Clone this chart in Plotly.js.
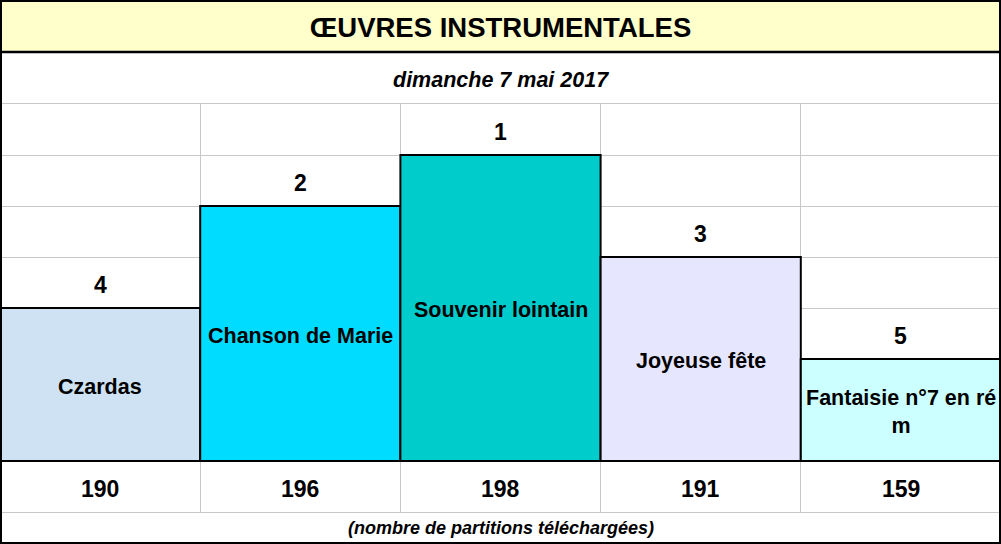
<!DOCTYPE html>
<html>
<head>
<meta charset="utf-8">
<script src="https://cdn.plot.ly/plotly-3.0.1.min.js"></script>
<style>
  html, body { margin: 0; padding: 0; background: #ffffff; }
  #chart { width: 1001px; height: 544px; }
</style>
</head>
<body>
<div id="chart"></div>
<script>
// ---- data ----
const chartTitle = 'ŒUVRES INSTRUMENTALES';
const chartDate = 'dimanche 7 mai 2017';
const footnote = '(nombre de partitions téléchargées)';
const pieces = ['Czardas', 'Chanson de Marie', 'Souvenir lointain', 'Joyeuse fête', 'Fantaisie n°7 en ré m'];
const ranks = [4, 2, 1, 3, 5];
const downloads = [190, 196, 198, 191, 159];

// ---- styling ----
const barColors = ['#CFE2F3', '#00DCFF', '#00CCCC', '#E6E6FF', '#CCFFFF'];
const font = '"Liberation Sans", Arial, sans-serif';
const W = 1001, H = 544, TOP = 104, BOTTOM = 32;
const plotH = H - TOP - BOTTOM;
const py = px => (H - BOTTOM - px) / plotH; // pixel row -> paper y

// bar height in grid rows: best rank is tallest
const barHeight = ranks.map(r => ranks.length + 2 - r);
const xs = pieces.map((_, i) => i);

function wrap(s, max) {
  const words = s.split(' ');
  const lines = [];
  let cur = '';
  words.forEach(w => {
    if (cur && (cur + ' ' + w).length > max) { lines.push(cur); cur = w; }
    else cur = cur ? cur + ' ' + w : w;
  });
  if (cur) lines.push(cur);
  return lines.join('<br>');
}

const trace = {
  type: 'bar',
  x: xs,
  y: barHeight,
  width: 1,
  marker: { color: barColors, line: { color: '#000000', width: 2 } },
  hoverinfo: 'skip',
  showlegend: false
};

const annotations = [];
xs.forEach((x, i) => {
  // piece name inside the bar
  annotations.push({
    x: x, y: barHeight[i] / 2, xref: 'x', yref: 'y', yshift: -2,
    text: '<b>' + wrap(pieces[i], 19) + '</b>', showarrow: false,
    font: { family: font, size: 21.5, color: '#000000' },
    xanchor: 'center', yanchor: 'middle'
  });
  // rank above the bar
  annotations.push({
    x: x, y: barHeight[i] + 0.5, xref: 'x', yref: 'y', yshift: -2,
    text: '<b>' + ranks[i] + '</b>', showarrow: false,
    font: { family: font, size: 23, color: '#000000' },
    xanchor: 'center', yanchor: 'middle'
  });
  // downloads in the bottom row
  annotations.push({
    x: x, y: -0.5, xref: 'x', yref: 'y', yshift: -2,
    text: '<b>' + downloads[i] + '</b>', showarrow: false,
    font: { family: font, size: 23, color: '#000000' },
    xanchor: 'center', yanchor: 'middle'
  });
});
annotations.push({
  x: 0.5, xref: 'paper', y: py(80), yref: 'paper',
  text: '<b><i>' + chartDate + '</i></b>', showarrow: false,
  font: { family: font, size: 21.5, color: '#000000' },
  xanchor: 'center', yanchor: 'middle'
});
annotations.push({
  x: 0.5, xref: 'paper', y: py(528), yref: 'paper',
  text: '<b><i>' + footnote + '</i></b>', showarrow: false,
  font: { family: font, size: 18, color: '#000000' },
  xanchor: 'center', yanchor: 'middle'
});

const shapes = [
  { type: 'rect', xref: 'paper', yref: 'paper', x0: 0, x1: 1, y0: py(52), y1: py(0),
    fillcolor: '#FFFFCC', line: { width: 0 }, layer: 'below' },
  { type: 'line', xref: 'paper', yref: 'paper', x0: 0, x1: 1, y0: py(52), y1: py(52),
    line: { color: '#000000', width: 2.5 } },
  { type: 'rect', xref: 'paper', yref: 'paper', x0: 0, x1: 1, y0: py(H), y1: py(0),
    line: { color: '#000000', width: 4 }, fillcolor: 'rgba(0,0,0,0)' }
];

const layout = {
  width: W, height: H,
  margin: { l: 0, r: 0, t: TOP, b: BOTTOM, pad: 0 },
  paper_bgcolor: '#ffffff', plot_bgcolor: '#ffffff',
  title: {
    text: '<b>' + chartTitle + '</b>',
    x: 0.5, xanchor: 'center', xref: 'paper',
    y: 1 - 27 / H, yanchor: 'middle', yref: 'container',
    font: { family: font, size: 27.5, color: '#000000' }
  },
  xaxis: {
    range: [-0.5, xs.length - 0.5], tickvals: xs.slice(1).map(x => x - 0.5),
    showticklabels: false, ticks: '', showgrid: true, gridcolor: '#C8C8C8', gridwidth: 1,
    zeroline: false, showline: true, mirror: true, linecolor: '#C8C8C8', linewidth: 1,
    fixedrange: true
  },
  yaxis: {
    range: [-1, 7], tick0: 0, dtick: 1,
    showticklabels: false, ticks: '', showgrid: true, gridcolor: '#C8C8C8', gridwidth: 1,
    zeroline: true, zerolinecolor: '#000000', zerolinewidth: 2.5,
    showline: false, fixedrange: true
  },
  bargap: 0,
  annotations: annotations,
  shapes: shapes,
  showlegend: false
};

Plotly.newPlot('chart', [trace], layout, { displayModeBar: false, staticPlot: true });
</script>
</body>
</html>
